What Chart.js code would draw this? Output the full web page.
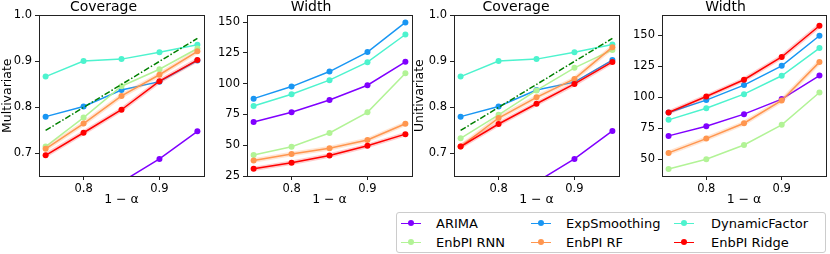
<!DOCTYPE html>
<html>
<head>
<meta charset="utf-8">
<script src="https://cdn.jsdelivr.net/npm/chart.js@4"></script>
<style>
  body { margin: 0; width: 830px; height: 254px; overflow: hidden; background: #fff; font-family: "DejaVu Sans", sans-serif; }
  canvas { position: absolute; top: 0; }
  #legend { position: absolute; left: 396px; top: 212px; width: 428px; height: 39px; border: 1px solid #ccc; border-radius: 3px; }
  .item { position: absolute; font-size: 13px; line-height: 16px; white-space: nowrap; }
  .swatch { position: absolute; top: 7px; width: 20px; height: 1.5px; }
  .dot { position: absolute; left: 7px; top: -2.5px; width: 6px; height: 6px; border-radius: 50%; }
</style>
</head>
<body>
<div id="legend"></div>
<script>
// x values and tick labels
const alphas = [0.75, 0.8, 0.85, 0.9, 0.95];
const target = [0.75, 0.8, 0.85, 0.9, 0.95];
const xTicks = [0.8, 0.9];
const covTicks = [0.7, 0.8, 0.9, 1.0];
const widthTicksMulti = [25, 50, 75, 100, 125, 150];
const widthTicksUni = [50, 75, 100, 125, 150];

const methods = ["ARIMA", "ExpSmoothing", "DynamicFactor", "EnbPI RNN", "EnbPI RF", "EnbPI Ridge"];
const colors = ["#8000ff", "#1996f3", "#4df3ce", "#b2f396", "#ff964f", "#ff0000"];

// multivariate coverage (one row per method)
const covMulti = [
  [0.55, 0.59, 0.638, 0.688, 0.748],
  [0.780, 0.802, 0.838, 0.856, 0.902],
  [0.867, 0.901, 0.905, 0.920, 0.936],
  [0.715, 0.778, 0.846, 0.883, 0.928],
  [0.710, 0.765, 0.825, 0.871, 0.922],
  [0.696, 0.745, 0.795, 0.857, 0.903]
];
// multivariate width
const widthMulti = [
  [68.8, 76.7, 86.7, 98.7, 117.7],
  [87.8, 97.6, 109.8, 125.6, 149.7],
  [81.8, 91.4, 102.8, 117.4, 139.9],
  [42.0, 48.7, 59.9, 76.7, 108.5],
  [37.6, 42.8, 47.6, 54.2, 67.4],
  [30.8, 35.7, 41.7, 49.5, 59.0]
];
// univariate coverage
const covUni = [
  [0.55, 0.59, 0.638, 0.688, 0.749],
  [0.780, 0.802, 0.838, 0.855, 0.903],
  [0.867, 0.901, 0.905, 0.920, 0.937],
  [0.733, 0.784, 0.837, 0.886, 0.925],
  [0.715, 0.777, 0.822, 0.862, 0.931],
  [0.715, 0.764, 0.808, 0.851, 0.899]
];
// univariate width
const widthUni = [
  [68.8, 76.6, 86.3, 98.4, 117.4],
  [87.6, 97.6, 109.7, 125.2, 149.4],
  [81.7, 91.1, 102.4, 117.2, 139.5],
  [42.2, 50.0, 61.5, 77.7, 103.7],
  [55.1, 66.6, 79.0, 97.3, 128.2],
  [87.6, 100.5, 114.0, 132.3, 157.5]
];

const font = "DejaVu Sans";

// draw the full box around the plot area
const boxPlugin = {
  id: "box",
  afterDraw(chart) {
    const a = chart.chartArea, ctx = chart.ctx;
    ctx.save();
    ctx.strokeStyle = "#222";
    ctx.lineWidth = 1;
    ctx.strokeRect(Math.round(a.left) + 0.5, Math.round(a.top) + 0.5, Math.round(a.right - a.left), Math.round(a.bottom - a.top));
    ctx.restore();
  }
};

function makePanel(p) {
  const canvas = document.createElement("canvas");
  canvas.width = p.yw + p.plotW + 1;
  canvas.height = 210;
  canvas.style.left = p.left + "px";
  document.body.appendChild(canvas);

  const datasets = [];
  methods.forEach((m, i) => {
    const pts = alphas.map((x, j) => ({ x: x, y: p.data[i][j] }));
    if (m === "EnbPI Ridge" || m === "EnbPI RF") {
      // faint band under the line
      datasets.push({
        data: pts, borderColor: m === "EnbPI Ridge" ? "rgba(255,0,0,0.2)" : "rgba(255,150,79,0.25)",
        borderWidth: 4.5, pointRadius: 0, order: 20 - i * 2 + 1
      });
    }
    datasets.push({
      label: m, data: pts, borderColor: colors[i], backgroundColor: colors[i],
      borderWidth: 1.5, pointRadius: 3, pointBorderWidth: 0, order: 20 - i * 2
    });
  });
  if (p.target) {
    datasets.push({
      data: alphas.map((x, j) => ({ x: x, y: target[j] })),
      borderColor: "#008000", borderWidth: 1.5, borderDash: [6, 2, 1.5, 2],
      pointRadius: 0, order: 0
    });
  }

  new Chart(canvas, {
    type: "line",
    data: { datasets: datasets },
    plugins: [boxPlugin],
    options: {
      responsive: false,
      animation: false,
      layout: { padding: { right: 1 } },
      plugins: {
        legend: { display: false },
        tooltip: { enabled: false },
        title: {
          display: true, text: p.title, color: "#000",
          font: { family: font, size: 14, weight: "normal", lineHeight: 1.1 },
          padding: 0
        }
      },
      scales: {
        x: {
          type: "linear", min: 0.7413, max: 0.9587,
          afterBuildTicks: s => { s.ticks = xTicks.map(v => ({ value: v })); },
          afterFit: s => { s.height = 34; },
          ticks: { color: "#000", font: { family: font, size: 11.5 }, padding: 2, callback: v => v.toFixed(1) },
          grid: { drawOnChartArea: false, drawTicks: true, tickLength: 4, color: "#222" },
          border: { color: "#222" },
          title: { display: true, text: "1 \u2212 \u03b1", color: "#000", font: { family: font, size: 12.5 }, padding: { top: 0, bottom: 2.5 } }
        },
        y: {
          min: p.yMin, max: p.yMax,
          afterBuildTicks: s => { s.ticks = p.yTicks.map(v => ({ value: v })); },
          afterFit: s => { s.width = p.yw; },
          ticks: { color: "#000", font: { family: font, size: 11.5 }, padding: 3, callback: p.fmt },
          grid: { drawOnChartArea: false, drawTicks: true, tickLength: 4, color: "#222" },
          border: { color: "#222" },
          title: { display: !!p.ylabel, text: p.ylabel || "", color: "#000", font: { family: font, size: 12.5 }, padding: { top: p.ypad || 0, bottom: 0 } }
        }
      }
    }
  });
}

const covFmt = v => v.toFixed(1);
const intFmt = v => String(v);

makePanel({ left: 0, yw: 39, plotW: 168, title: "Coverage", data: covMulti, target: true, yMin: 0.651, yMax: 1.0, yTicks: covTicks, fmt: covFmt, ylabel: "Multivariate", ypad: 0.5 });
makePanel({ left: 207, yw: 40, plotW: 168, title: "Width", data: widthMulti, target: false, yMin: 25, yMax: 155.4, yTicks: widthTicksMulti, fmt: intFmt });
makePanel({ left: 410, yw: 44, plotW: 168, title: "Coverage", data: covUni, target: true, yMin: 0.651, yMax: 1.0, yTicks: covTicks, fmt: covFmt, ylabel: "Unitivariate", ypad: 2.5 });
makePanel({ left: 622, yw: 40, plotW: 167, title: "Width", data: widthUni, target: false, yMin: 36.5, yMax: 165.8, yTicks: widthTicksUni, fmt: intFmt });

// legend: 3 columns x 2 rows
const legend = document.getElementById("legend");
const colX = [4, 134, 277];
const rowY = [2.5, 21.5];
methods.forEach((m, i) => {
  const col = i % 3, row = Math.floor(i / 3);
  const item = document.createElement("div");
  item.className = "item";
  item.style.left = colX[col] + "px";
  item.style.top = rowY[row] + "px";
  item.innerHTML = '<span class="swatch" style="left:0;background:' + colors[i] + '"><span class="dot" style="background:' + colors[i] + '"></span></span>' +
    '<span style="position:absolute;left:' + (col === 2 ? 37 : 35) + 'px;">' + m + '</span>';
  legend.appendChild(item);
});
</script>
</body>
</html>
